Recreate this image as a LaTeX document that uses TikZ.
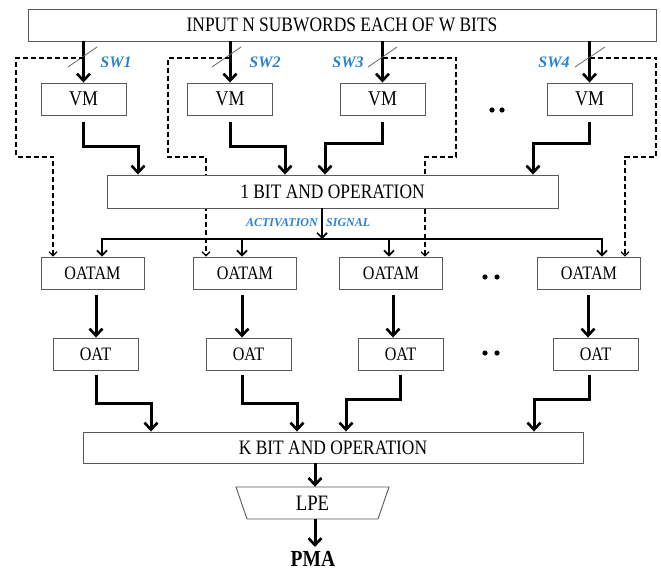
\documentclass[tikz,border=0pt]{standalone}
\usepackage{fontspec}
\setmainfont{Liberation Serif}
\newfontfamily\lblfont{Liberation Serif}
\usetikzlibrary{arrows.meta,calc}
\definecolor{swblue}{RGB}{40,130,210}
\newcommand{\nar}[1]{\scalebox{0.85}[1]{#1}}
\begin{document}
\begin{tikzpicture}[x=1pt,y=-1pt,
  box/.style={draw=black!65, line width=0.9pt, fill=white, inner sep=0pt},
  fs/.style={font=\fontsize{#1}{#1}\selectfont},
  big/.style={line width=3pt, -{Straight Barb[length=7pt,width=13pt,line width=2.6pt]}},
  act/.style={line width=2pt, -{Straight Barb[length=5pt,width=10pt,line width=1.7pt]}},
  dashline/.style={line width=1.4pt, dash pattern=on 5pt off 3pt, -{Straight Barb[length=4pt,width=8pt,line width=1.2pt]}},
  lbl/.style={text=swblue, font=\lblfont\bfseries\itshape\fontsize{16}{16}\selectfont, inner sep=0pt},
  slash/.style={draw=black!60, line width=0.8pt}
]
\useasboundingbox (0,0) rectangle (661,572);

% top box
\node[box, fs=20.5, minimum width=628, minimum height=32] (in) at (342,25) {\nar{INPUT N SUBWORDS EACH OF W BITS}};

% VM boxes
\foreach \i/\x in {1/83.5,2/230,3/382.5,4/589.5}
  \node[box, fs=21, minimum width=85, minimum height=32] (vm\i) at (\x,99) {\nar{VM}};

% OATAM boxes
\foreach \i/\x in {1/92.5,2/245,3/391,4/589}
  \node[box, fs=19, minimum width=103, minimum height=32] (oatam\i) at (\x,273) {\nar{OATAM}};

% OAT boxes
\foreach \i/\x in {1/95.5,2/248.5,3/400.5,4/595.5}
  \node[box, fs=19, minimum width=85, minimum height=32] (oat\i) at (\x,354) {\nar{OAT}};

% SW arrows
\foreach \i in {1,...,4}
  \draw[big] (in.south -| vm\i) -- (vm\i.north);

% slashes
\draw[slash] (68,67) -- (97,47);
\draw[slash] (212,67) -- (241,47);
\draw[slash] (368,67) -- (397,47);
\draw[slash] (575,67) -- (605,47);

% SW labels
\node[lbl] (sw1) at (116,62) {SW1};
\node[lbl] (sw2) at (265,62) {SW2};
\node[lbl] (sw3) at (348,62) {SW3};
\node[lbl] (sw4) at (554,62) {SW4};

% dashed lines to OATAM
\draw[dashline] (vm1 |- 0,58) -| (16,157) -| ($(oatam1.north)+(-39.5,0)$);
\draw[dashline] (vm2 |- 0,58) -| (168,157) -| ($(oatam2.north)+(-39,0)$);
\draw[dashline] (vm3 |- 0,58) -| (456,157) -| ($(oatam3.north)+(34,0)$);
\draw[dashline] (vm4 |- 0,58) -| (656,157) -| ($(oatam4.north)+(36,0)$);

% 1 bit AND box
\node[box, fs=20.5, minimum width=451, minimum height=33] (bit1) at (332.5,191.5) {\nar{1 BIT AND OPERATION}};

% VM outputs
\draw[big] ($(vm1.south)+(0,7)$) |- (138,147) -- (bit1.north -| 138,0);
\draw[big] ($(vm2.south)+(0,7)$) |- (285,147) -- (bit1.north -| 285,0);
\draw[big] ($(vm3.south)+(0,7)$) |- (325,144) -- (bit1.north -| 325,0);
\draw[big] ($(vm4.south)+(0,7)$) |- (533,144) -- (bit1.north -| 533,0);

% activation signal
\coordinate (bus) at (322,239);
\draw[act] (bit1.south -| bus) -- (bus);
\draw[act] (bus) -| (oatam1.north -| 102,0);
\draw[act] (bus) -| (oatam2.north -| 242,0);
\draw[act] (bus) -| (oatam3.north -| 389,0);
\draw[act] (bus) -| (oatam4.north -| 602,0);
\node[lbl, font=\lblfont\bfseries\itshape\fontsize{12}{12}\selectfont, anchor=east] (actl) at (318,223) {ACTIVATION};
\node[lbl, font=\lblfont\bfseries\itshape\fontsize{12}{12}\selectfont, anchor=west] (sigl) at (326,223) {SIGNAL};

% OATAM -> OAT
\draw[big] ($(oatam1.south -| 96,0)+(0,6)$) -- (oat1.north -| 96,0);
\draw[big] ($(oatam2.south -| 242,0)+(0,6)$) -- (oat2.north -| 242,0);
\draw[big] ($(oatam3.south -| 393,0)+(0,6)$) -- (oat3.north -| 393,0);
\draw[big] ($(oatam4.south -| 588,0)+(0,6)$) -- (oat4.north -| 588,0);

% dots
\foreach \x in {492,502} \fill (\x,110) circle (2.6pt);
\foreach \x in {485,497} {\fill (\x,277) circle (2.6pt); \fill (\x,353) circle (2.6pt);}

% K bit AND box
\node[box, fs=20.5, minimum width=500, minimum height=31] (kbit) at (333,447.5) {\nar{K BIT AND OPERATION}};

% OAT -> K
\draw[big] ($(oat1.south -| 96,0)+(0,5)$) |- (151,403) -- (kbit.north -| 151,0);
\draw[big] ($(oat2.south -| 242,0)+(0,5)$) |- (297,403) -- (kbit.north -| 297,0);
\draw[big] ($(oat3.south -| 400,0)+(0,5)$) |- (346,399) -- (kbit.north -| 346,0);
\draw[big] ($(oat4.south -| 589,0)+(0,5)$) |- (534,399) -- (kbit.north -| 534,0);

% LPE
\draw[draw=black!65, line width=0.9pt, fill=white] (236,487) -- (389,487) -- (378,519) -- (247,519) -- cycle;
\node[fs=22, minimum width=130, minimum height=32, inner sep=0pt] (lpe) at (312.5,503) {\nar{LPE}};
\draw[big] (kbit.south -| 315,0) -- (lpe.north -| 315,0);

% PMA
\node[font=\bfseries\fontsize{23}{23}\selectfont, anchor=north, inner sep=0pt] (pma) at (313,551) {\nar{PMA}};
\draw[big] (lpe.south -| 315,0) -- ($(pma.north -| 315,0)+(0,-4)$);
\end{tikzpicture}
\end{document}
